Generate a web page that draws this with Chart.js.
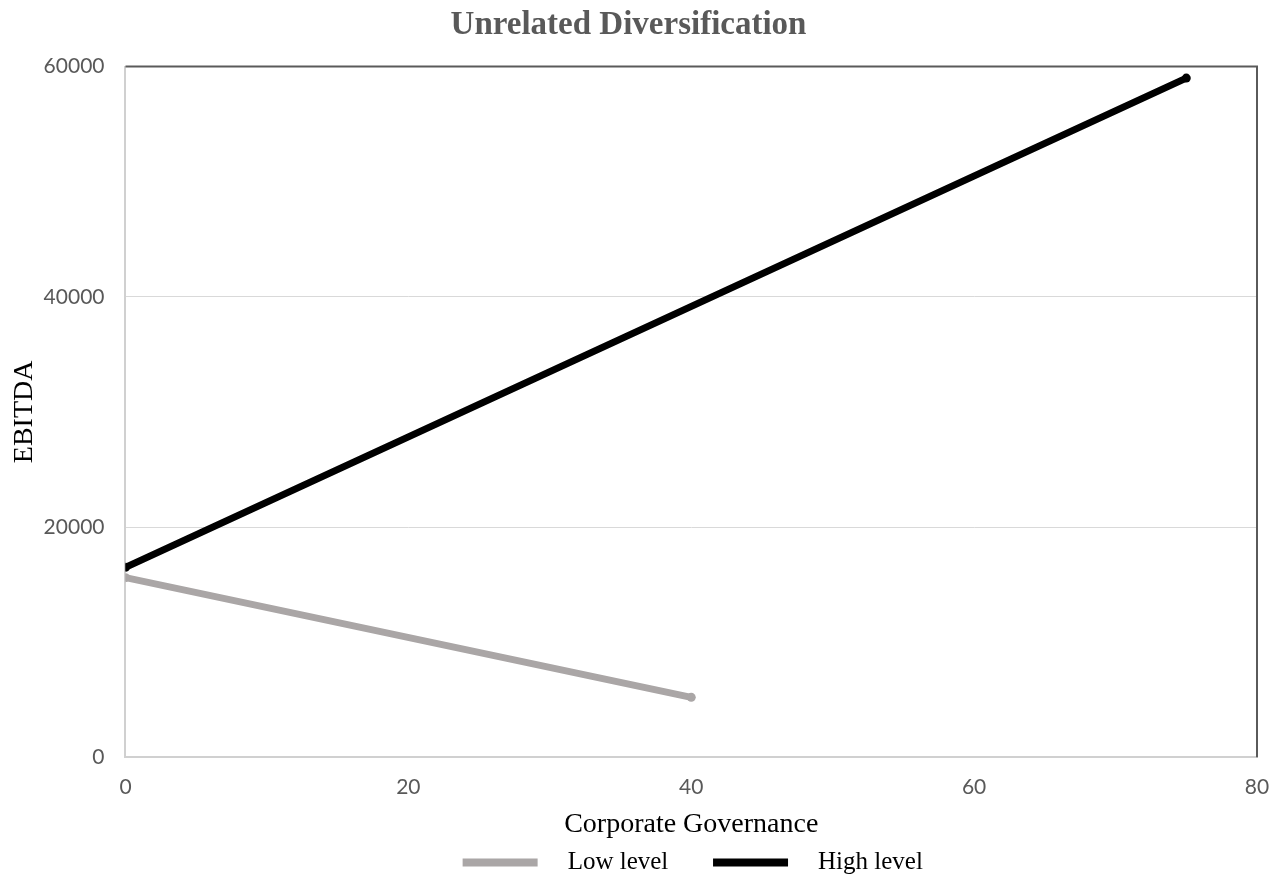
<!DOCTYPE html>
<html>
<head>
<meta charset="utf-8">
<script src="https://cdn.jsdelivr.net/npm/chart.js@4"></script>
<style>
  html, body { margin: 0; padding: 0; background: #fff; }
  #wrap { width: 1282px; height: 879px; }
</style>
</head>
<body>
<div id="wrap"><canvas id="chart" width="1282" height="879"></canvas></div>
<script>
// data
const seriesNames = ['Low level', 'High level'];
const lowX = [0, 40];
const lowY = [15600, 5200];
const highX = [0, 75];
const highY = [16500, 59000];
const xTicks = [0, 20, 40, 60, 80];
const yTicks = [0, 20000, 40000, 60000];

const toPoints = (xs, ys) => xs.map((x, i) => ({ x: x, y: ys[i] }));

// top and right frame lines are darker than the axes
const frame = {
  id: 'frame',
  afterDraw(chart) {
    const a = chart.chartArea;
    const c = chart.ctx;
    c.save();
    c.strokeStyle = '#5a5a5a';
    c.lineWidth = 2;
    c.beginPath();
    c.moveTo(a.left, a.top);
    c.lineTo(a.right, a.top);
    c.lineTo(a.right, a.bottom);
    c.stroke();
    c.restore();
  }
};

// center the legend under the plot and nudge it down a bit
const legendShift = {
  id: 'legendShift',
  afterLayout(chart) {
    const lg = chart.legend;
    const a = chart.chartArea;
    const d = (a.left + a.right) / 2 - (lg.left + lg.right) / 2 + 1.5;
    lg.left += d;
    lg.right += d;
    lg.top += 6;
    lg.bottom += 6;
  }
};

new Chart(document.getElementById('chart'), {
  type: 'line',
  data: {
    datasets: [{
      label: seriesNames[0],
      data: toPoints(lowX, lowY),
      borderColor: '#aaa6a6',
      backgroundColor: '#aaa6a6',
      borderWidth: 7,
      borderCapStyle: 'round',
      pointRadius: 4.5,
      pointBorderWidth: 0,
      pointHoverRadius: 4.5
    }, {
      label: seriesNames[1],
      data: toPoints(highX, highY),
      borderColor: '#000',
      backgroundColor: '#000',
      borderWidth: 7,
      borderCapStyle: 'round',
      pointRadius: 4.5,
      pointBorderWidth: 0,
      pointHoverRadius: 4.5
    }]
  },
  options: {
    responsive: false,
    animation: false,
    layout: { padding: { left: 0, right: 25, top: 0, bottom: 0 } },
    plugins: {
      title: {
        display: true,
        text: 'Unrelated Diversification',
        color: '#595959',
        font: { family: '"Liberation Serif", serif', size: 33, weight: 'bold' },
        padding: { top: 6, bottom: 21 }
      },
      legend: {
        position: 'bottom',
        labels: {
          color: '#000',
          font: { family: '"Liberation Serif", serif', size: 25, lineHeight: 1 },
          boxWidth: 75,
          boxHeight: 8,
          padding: 1,
          generateLabels(chart) {
            return chart.data.datasets.map((d, i) => ({
              text: '  \u2009' + d.label + (i === 0 ? '       ' : ''),
              fillStyle: d.borderColor,
              strokeStyle: d.borderColor,
              lineWidth: 0,
              hidden: false,
              datasetIndex: i,
              fontColor: '#000'
            }));
          }
        }
      },
      tooltip: { enabled: false }
    },
    scales: {
      x: {
        type: 'linear',
        min: 0,
        max: 80,
        afterBuildTicks(scale) { scale.ticks = xTicks.map(v => ({ value: v })); },
        afterFit(scale) { scale.paddingRight = 0; },
        grid: { display: false, drawTicks: false },
        border: { color: '#d0d0d0', width: 2 },
        ticks: {
          color: '#595959',
          padding: 17,
          font: { family: 'Lato, sans-serif', size: 21 },
          callback: v => String(v)
        },
        title: {
          display: true,
          text: 'Corporate Governance',
          color: '#000',
          font: { family: '"Liberation Serif", serif', size: 28 },
          padding: { top: -9, bottom: 2 }
        }
      },
      y: {
        min: 0,
        max: 60000,
        afterBuildTicks(scale) { scale.ticks = yTicks.map(v => ({ value: v })); },
        grid: { color: '#d9d9d9', lineWidth: 1, drawTicks: false },
        border: { color: '#d0d0d0', width: 2 },
        ticks: {
          color: '#595959',
          padding: 21,
          font: { family: 'Lato, sans-serif', size: 21 },
          callback: v => String(v)
        },
        title: {
          display: true,
          text: 'EBITDA',
          color: '#000',
          font: { family: '"Liberation Serif", serif', size: 28 },
          padding: { top: 8, bottom: -19 }
        }
      }
    }
  },
  plugins: [frame, legendShift]
});
</script>
</body>
</html>
